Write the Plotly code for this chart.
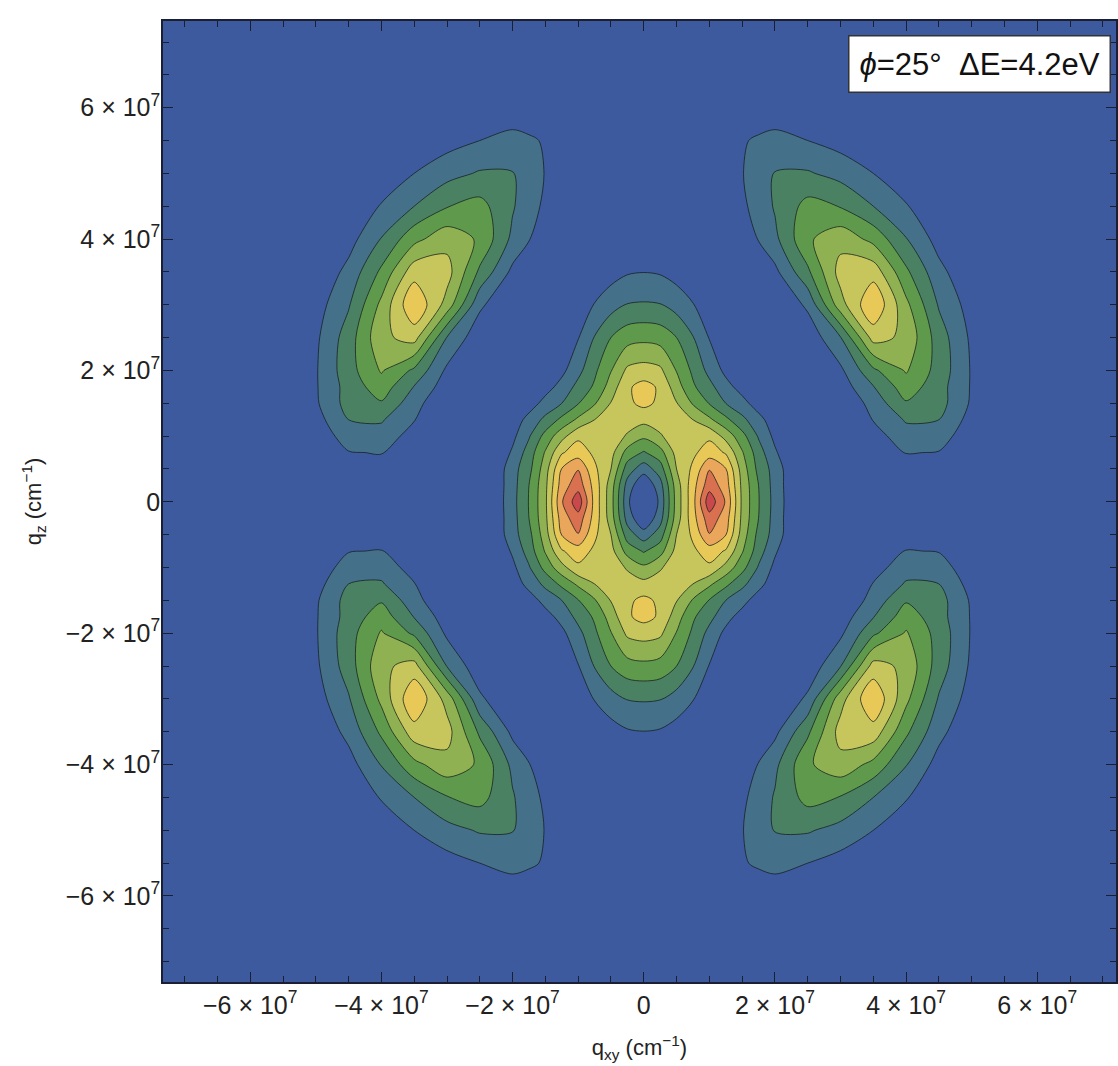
import numpy as np
import plotly.graph_objects as go

# Grid nodes (cm^-1) of the first quadrant, finer near the centre;
# the map is mirror-symmetric in q_xy and q_z
q_nodes = [0, 2.5e6, 5e6, 7.5e6, 10e6, 12.5e6, 15e6, 17.5e6, 20e6,
           25e6, 30e6, 35e6, 40e6, 45e6, 50e6, 55e6, 60e6, 65e6, 70e6, 75e6]

# Intensity (in contour-level units) on the quadrant grid:
# one row per q_z node, one column per q_xy node (same node list for both)
intensity_quadrant = [
    # q_z = 0
    [-1.0, 1.3, 4.4, 6.65, 9.65, 7.9, 4.8, 3.05, 1.65, -0.7, -0.8, -0.5, 0.1, 0.2, -0.2, -0.5, -0.5, -0.5, -0.5, -0.5],
    # q_z = 2.5e6
    [0.06, 1.6, 4.5, 6.6, 8.6, 7.5, 4.75, 3.0, 1.6, -0.7, -0.8, -0.4, 0.3, 0.35, -0.1, -0.5, -0.5, -0.5, -0.5, -0.5],
    # q_z = 5e6
    [1.45, 2.5, 5.0, 6.2, 7.95, 7.05, 4.55, 2.7, 1.6, -0.8, -0.8, -0.3, 0.5, 0.55, 0.0, -0.5, -0.5, -0.5, -0.5, -0.5],
    # q_z = 7.5e6
    [2.9, 3.6, 5.35, 5.8, 6.5, 5.9, 4.1, 2.45, 1.15, -0.8, -0.6, 0.1, 1.05, 0.95, 0.2, -0.5, -0.5, -0.5, -0.5, -0.5],
    # q_z = 10e6
    [4.2, 4.9, 5.5, 5.6, 5.8, 4.65, 3.35, 1.9, 0.75, -0.8, -0.5, 0.55, 1.6, 1.5, 0.3, -0.5, -0.5, -0.5, -0.5, -0.5],
    # q_z = 12.5e6
    [5.3, 5.4, 5.5, 5.0, 4.2, 3.25, 2.25, 1.35, 0.4, -0.8, -0.25, 1.05, 2.1, 2.0, 0.6, -0.4, -0.5, -0.5, -0.5, -0.5],
    # q_z = 15e6
    [6.25, 5.8, 5.05, 3.9, 2.95, 2.0, 1.35, 0.5, 0.0, -0.5, 0.0, 1.4, 2.9, 2.4, 0.85, -0.3, -0.5, -0.5, -0.5, -0.5],
    # q_z = 17.5e6
    [6.35, 5.85, 4.45, 3.15, 2.3, 1.35, 0.6, 0.0, -0.5, -0.4, 0.45, 1.95, 3.55, 2.4, 0.9, -0.3, -0.5, -0.5, -0.5, -0.5],
    # q_z = 20e6
    [5.4, 5.2, 3.95, 2.8, 1.7, 0.75, 0.0, -0.5, -0.5, -0.2, 0.8, 2.8, 4.1, 2.6, 0.9, -0.3, -0.5, -0.5, -0.5, -0.5],
    # q_z = 25e6
    [3.75, 3.6, 3.0, 2.05, 0.95, 0.2, -0.5, -0.5, -0.5, 0.3, 1.95, 5.4, 4.75, 2.5, 0.8, -0.3, -0.5, -0.5, -0.5, -0.5],
    # q_z = 30e6
    [2.1, 2.05, 1.6, 1.05, 0.4, -0.3, -0.5, -0.3, 0.0, 1.2, 4.6, 6.9, 4.25, 1.9, 0.55, -0.3, -0.5, -0.5, -0.5, -0.5],
    # q_z = 35e6
    [0.98, 0.9, 0.6, 0.2, -0.3, -0.5, -0.5, 0.1, 0.75, 2.8, 5.4, 5.6, 3.2, 1.3, 0.15, -0.5, -0.5, -0.5, -0.5, -0.5],
    # q_z = 40e6
    [-0.5, -0.5, -0.5, -0.5, -0.5, -0.3, 0.4, 1.05, 1.75, 3.85, 4.65, 3.7, 2.05, 0.6, -0.3, -0.5, -0.5, -0.5, -0.5, -0.5],
    # q_z = 45e6
    [-0.5, -0.5, -0.5, -0.5, -0.3, 0.3, 0.8, 1.4, 2.1, 3.35, 2.95, 2.0, 1.1, 0.0, -0.5, -0.5, -0.5, -0.5, -0.5, -0.5],
    # q_z = 50e6
    [-0.5, -0.5, -0.5, -0.5, 0.0, 0.5, 0.95, 1.55, 2.05, 2.1, 1.65, 1.0, 0.1, -0.5, -0.5, -0.5, -0.5, -0.5, -0.5, -0.5],
    # q_z = 55e6
    [-0.5, -0.5, -0.5, -0.5, -0.2, 0.4, 0.9, 1.15, 1.3, 1.0, 0.6, 0.0, -0.5, -0.5, -0.5, -0.5, -0.5, -0.5, -0.5, -0.5],
    # q_z = 60e6
    [-0.5, -0.5, -0.5, -0.5, -0.5, -0.2, 0.2, 0.3, 0.4, 0.3, -0.2, -0.5, -0.5, -0.5, -0.5, -0.5, -0.5, -0.5, -0.5, -0.5],
    # q_z = 65e6
    [-0.5, -0.5, -0.5, -0.5, -0.5, -0.5, -0.5, -0.5, -0.5, -0.5, -0.5, -0.5, -0.5, -0.5, -0.5, -0.5, -0.5, -0.5, -0.5, -0.5],
    # q_z = 70e6
    [-0.5, -0.5, -0.5, -0.5, -0.5, -0.5, -0.5, -0.5, -0.5, -0.5, -0.5, -0.5, -0.5, -0.5, -0.5, -0.5, -0.5, -0.5, -0.5, -0.5],
    # q_z = 75e6
    [-0.5, -0.5, -0.5, -0.5, -0.5, -0.5, -0.5, -0.5, -0.5, -0.5, -0.5, -0.5, -0.5, -0.5, -0.5, -0.5, -0.5, -0.5, -0.5, -0.5],
]

tick_vals = [-6e7, -4e7, -2e7, 0, 2e7, 4e7, 6e7]
tick_text = ["−6 × 10<sup>7</sup>", "−4 × 10<sup>7</sup>", "−2 × 10<sup>7</sup>", "0",
             "2 × 10<sup>7</sup>", "4 × 10<sup>7</sup>", "6 × 10<sup>7</sup>"]

# fill colour of each band, from the background up to the highest level
band_colors = ["#3e5a9f", "#45708a", "#4a8162", "#5f9a4c", "#8fb151",
               "#c6c65c", "#e8c958", "#eaa75b", "#d9704f", "#c9484b"]

annotation_text = "<i>ϕ</i>=25°\u00a0\u00a0ΔE=4.2eV"

# unfold the quadrant into the full symmetric map
q_half = np.array(q_nodes)
q_full = np.concatenate([-q_half[:0:-1], q_half])
mirror_idx = np.abs(np.arange(-(len(q_half) - 1), len(q_half)))
quad = np.array(intensity_quadrant)
z_full = quad[np.ix_(mirror_idx, mirror_idx)]

n_bands = len(band_colors)
colorscale = [[k / (n_bands - 1), c] for k, c in enumerate(band_colors)]

fig = go.Figure(go.Contour(
    x=q_full, y=q_full, z=z_full,
    contours=dict(start=1, end=9, size=1, coloring="fill"),
    colorscale=colorscale,
    showscale=False,
    line=dict(color="rgba(20,30,30,0.75)", width=1, smoothing=0.85),
    hoverinfo="skip",
))

font_family = "Liberation Sans, Arial, sans-serif"
axis_font = dict(family=font_family, size=25, color="#222222")
title_font = dict(family=font_family, size=22, color="#222222")
common_axis = dict(
    tickmode="array", tickvals=tick_vals, ticktext=tick_text,
    ticks="inside", ticklen=10, tickwidth=1.2, tickcolor="#1a1f33",
    minor=dict(ticks="inside", ticklen=6, tickwidth=1, tickcolor="#1a1f33",
               tickmode="linear", tick0=0, dtick=5e6),
    showline=True, linecolor="#1a1f33", linewidth=1.5, mirror="ticks",
    showgrid=False, zeroline=False, tickfont=axis_font,
)

fig.update_xaxes(range=[-7.33e7, 7.2e7],
                 title=dict(text="q<sub>xy</sub> (cm<sup>−1</sup>)", font=title_font, standoff=22),
                 **common_axis)
fig.update_yaxes(range=[-7.31e7, 7.32e7],
                 title=dict(text="q<sub>z</sub> (cm<sup>−1</sup>)", font=title_font, standoff=18),
                 ticklabelstandoff=-4,
                 **common_axis)

fig.add_annotation(
    xref="paper", yref="paper", x=0.9948, y=0.9854, xanchor="right", yanchor="top",
    text=annotation_text, showarrow=False,
    font=dict(family=font_family, size=31, color="#111111"),
    bgcolor="white", bordercolor="#333333", borderwidth=1.5, borderpad=10,
)

fig.update_layout(
    width=1118, height=1066,
    margin=dict(l=163, r=0, t=21, b=84),
    paper_bgcolor="white", plot_bgcolor=band_colors[0],
    showlegend=False,
)

fig.write_html("out.html")
